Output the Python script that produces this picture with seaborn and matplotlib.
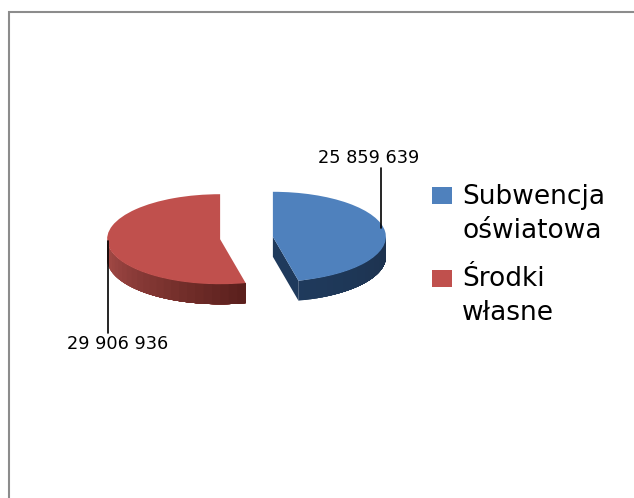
import numpy as np
import matplotlib
matplotlib.use('Agg')
import matplotlib.pyplot as plt
import seaborn as sns
from matplotlib.patches import Rectangle

sns.set_theme(style='white')
plt.rcParams['font.family'] = ['DejaVu Sans']

# dane
categories = ['Subwencja\noświatowa', 'Środki\nwłasne']
values = [25859639, 29906936]
top_colors = ['#4f81bd', '#c0504d']

W, H = 634, 498
RX, RY = 113, 45      # promienie elipsy w px
CX, CY = 246.5, 238   # srodek w px
DEPTH = 20 / RY       # grubosc "plastra"


def frac(x, y):
    # px obrazka -> wspolrzedne osi
    return x / W, 1 - y / H


fig = plt.figure(figsize=(W / 100, H / 100), dpi=100)
fig.patch.set_facecolor('white')
ax = fig.add_axes([0, 0, 1, 1])

# ramka wykresu, ucieta z prawej i z dolu
fig.add_artist(Rectangle((9 / W, -0.1), 1.1, 1.1 - 12 / H, transform=fig.transFigure,
                         facecolor='white', edgecolor='#8c8c8c', linewidth=1.5, zorder=-5))
ax.patch.set_alpha(0)

wedges, _ = ax.pie(values, colors=top_colors, startangle=90, counterclock=False,
                   explode=[0.235, 0.235], radius=1,
                   wedgeprops={'linewidth': 0, 'zorder': 5})

ax.set_aspect('auto')
ax.set_xlim(-CX / RX, (W - CX) / RX)
ax.set_ylim(-(H - CY) / RY, CY / RY)

# boczne scianki, kazdy pasek zachodzi na nastepne zeby nie bylo szczelin
side_palettes = [['#1f3a5c', '#1d324e'], ['#a84d49', '#5b201d']]
for wedge, pal_ends in zip(wedges, side_palettes):
    cx, cy = wedge.center
    t1, t2 = wedge.theta1 % 360, wedge.theta2 % 360
    if t2 <= t1:
        t2 += 360
    # widoczna jest tylko dolna polowa luku
    lo, hi = max(t1, 180), min(t2, 360)
    edges = np.radians(np.linspace(lo, hi, 25))
    pal = sns.blend_palette(pal_ends, len(edges) - 1)
    for i, c in enumerate(pal):
        arc = edges[i:]
        arc = np.linspace(arc[0], arc[-1], 60)
        xs = cx + np.cos(np.r_[arc, arc[::-1]])
        ys = cy + np.r_[np.sin(arc), np.sin(arc[::-1]) - DEPTH]
        ax.fill(xs, ys, color=c, linewidth=0, zorder=3)

# scianka przekroju niebieskiego wycinka
blue = wedges[0]
ang = np.radians(blue.theta1)
bx, by = blue.center
tip = (bx + np.cos(ang), by + np.sin(ang))
ax.fill([bx, tip[0], tip[0], bx], [by, tip[1], tip[1] - DEPTH, by - DEPTH],
        color='#1f3a5c', linewidth=0, zorder=4)

# etykiety z liniami
label_text = [f'{v:,}'.replace(',', ' ') for v in values]
ax.plot(*zip(frac(381, 168), frac(381, 228)), color='black', lw=1.2,
        transform=ax.transAxes, zorder=6)
ax.plot(*zip(frac(108, 241), frac(108, 333)), color='black', lw=1.2,
        transform=ax.transAxes, zorder=6)
ax.text(*frac(369, 158), label_text[0], transform=ax.transAxes, ha='center', va='center',
        fontsize=12.8, color='black')
ax.text(*frac(118, 344), label_text[1], transform=ax.transAxes, ha='center', va='center',
        fontsize=12.8, color='black')

leg = ax.legend(wedges, categories, loc='upper left', bbox_to_anchor=frac(432, 184),
                frameon=False, fontsize=19, handlelength=0.75, handleheight=0.6,
                handletextpad=0.4, labelspacing=0.85, borderpad=0, borderaxespad=0,
                labelcolor='black')
for t in leg.get_texts():
    t.set_linespacing(1.39)
# kwadrat legendy przy pierwszej linii tekstu
for h, shift in zip(leg.legend_handles, [14, 13]):
    h.set_y(h.get_y() + shift)

plt.savefig('out.png', dpi=100)
